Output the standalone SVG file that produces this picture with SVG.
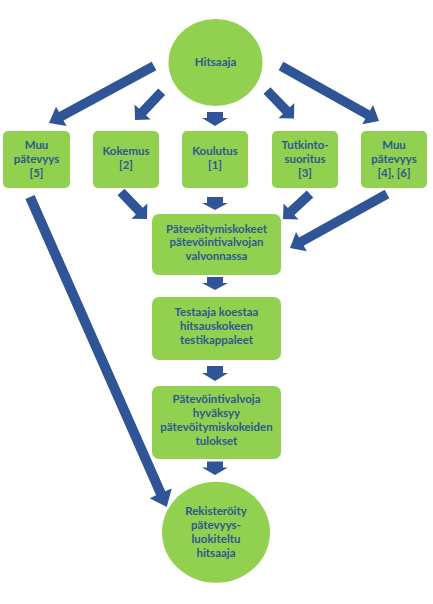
<svg xmlns="http://www.w3.org/2000/svg" width="433" height="604" viewBox="0 0 433 604">
<style>
.n{fill:#92D050;}
.t{font-family:Lato,"Liberation Sans",sans-serif;font-weight:bold;font-size:11.5px;fill:#2A5A8E;text-anchor:middle;}
.a{fill:#2F5597;}
</style>
<rect width="433" height="604" fill="#ffffff"/>
<g id="connectors">
<path class="a" transform="translate(154,66) rotate(151.5)" d="M0,-4.8 H105.5 V-11 L119.5,0 L105.5,11 V4.8 H0 Z"/>
<path class="a" transform="translate(161.7,91.7) rotate(133.3)" d="M0,-4.8 H27.9 V-11 L38.9,0 L27.9,11 V4.8 H0 Z"/>
<path class="a" transform="translate(215,112) rotate(90)" d="M0,-8 H6 V-13 L14,0 L6,13 V8 H0 Z"/>
<path class="a" transform="translate(267,90.5) rotate(46)" d="M0,-4.8 H27.9 V-11 L38.9,0 L27.9,11 V4.8 H0 Z"/>
<path class="a" transform="translate(281,66) rotate(29.3)" d="M0,-4.8 H99.4 V-11 L112.4,0 L99.4,11 V4.8 H0 Z"/>
<path class="a" transform="translate(121,192) rotate(46.1)" d="M0,-4.8 H26.5 V-11 L37.5,0 L26.5,11 V4.8 H0 Z"/>
<path class="a" transform="translate(215,197) rotate(90)" d="M0,-8 H6 V-13 L13,0 L6,13 V8 H0 Z"/>
<path class="a" transform="translate(310,194) rotate(137.2)" d="M0,-4.8 H25.8 V-11 L36.8,0 L25.8,11 V4.8 H0 Z"/>
<path class="a" transform="translate(387,194) rotate(150.9)" d="M0,-4.8 H98 V-11 L111,0 L98,11 V4.8 H0 Z"/>
<path class="a" transform="translate(30,197) rotate(66.2)" d="M0,-5 H323.9 V-12 L338.9,0 L323.9,12 V5 H0 Z"/>
<path class="a" transform="translate(215,277) rotate(90)" d="M0,-8 H6 V-13 L13,0 L6,13 V8 H0 Z"/>
<path class="a" transform="translate(215,366) rotate(90)" d="M0,-8 H7 V-13 L15,0 L7,13 V8 H0 Z"/>
<path class="a" transform="translate(215,461.5) rotate(90)" d="M0,-8 H6 V-13 L13.5,0 L6,13 V8 H0 Z"/>
</g>
<g id="hitsaaja">
<ellipse class="n" cx="215.5" cy="62.5" rx="47" ry="43.5"/>
<text class="t" x="215.5" y="66">Hitsaaja</text>
</g>
<g id="muu5">
<rect class="n" x="3" y="131" width="67" height="57" rx="5"/>
<text class="t" x="36.5" y="148.5">Muu</text>
<text class="t" x="36.5" y="162.5">pätevyys</text>
<text class="t" x="36.5" y="176.5">[5]</text>
</g>
<g id="kokemus">
<rect class="n" x="93" y="131" width="66" height="57" rx="5"/>
<text class="t" x="126" y="155">Kokemus</text>
<text class="t" x="126" y="169">[2]</text>
</g>
<g id="koulutus">
<rect class="n" x="182" y="131" width="66" height="57" rx="5"/>
<text class="t" x="215" y="155">Koulutus</text>
<text class="t" x="215" y="169">[1]</text>
</g>
<g id="tutkinto">
<rect class="n" x="272" y="131" width="66" height="57" rx="5"/>
<text class="t" x="305" y="148.5">Tutkinto-</text>
<text class="t" x="305" y="162.5">suoritus</text>
<text class="t" x="305" y="176.5">[3]</text>
</g>
<g id="muu46">
<rect class="n" x="361" y="131" width="66" height="57" rx="5"/>
<text class="t" x="394" y="148.5">Muu</text>
<text class="t" x="394" y="162.5">pätevyys</text>
<text class="t" x="394" y="176.5">[4], [6]</text>
</g>
<g id="patevoitymiskokeet">
<rect class="n" x="152" y="214" width="129" height="61" rx="7"/>
<text class="t" x="216.5" y="232.5">Pätevöitymiskokeet</text>
<text class="t" x="216.5" y="246">pätevöintivalvojan</text>
<text class="t" x="216.5" y="260">valvonnassa</text>
</g>
<g id="testaaja">
<rect class="n" x="152" y="297" width="129" height="63" rx="7"/>
<text class="t" x="216.5" y="316">Testaaja koestaa</text>
<text class="t" x="216.5" y="330">hitsauskokeen</text>
<text class="t" x="216.5" y="344">testikappaleet</text>
</g>
<g id="hyvaksyy">
<rect class="n" x="152" y="386" width="129" height="73" rx="7"/>
<text class="t" x="216.5" y="403">Pätevöintivalvoja</text>
<text class="t" x="216.5" y="417">hyväksyy</text>
<text class="t" x="216.5" y="431">pätevöitymiskokeiden</text>
<text class="t" x="216.5" y="445">tulokset</text>
</g>
<g id="rekisteroity">
<ellipse class="n" cx="216" cy="532.3" rx="54" ry="50.5"/>
<text class="t" x="216" y="515">Rekisteröity</text>
<text class="t" x="216" y="529">pätevyys-</text>
<text class="t" x="216" y="543">luokiteltu</text>
<text class="t" x="216" y="557">hitsaaja</text>
</g>
</svg>
